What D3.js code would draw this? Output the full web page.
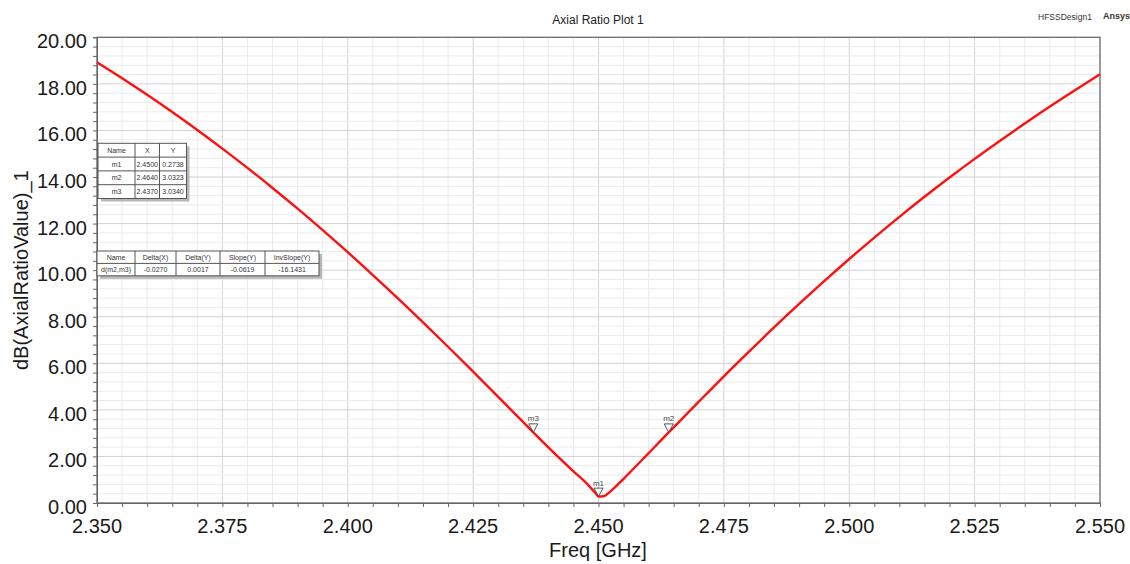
<!DOCTYPE html>
<html><head><meta charset="utf-8">
<script src="https://cdn.jsdelivr.net/npm/d3@7"></script>
<style>body{margin:0;background:#fff}svg{display:block}text{font-family:"Liberation Sans",Arial,sans-serif}</style>
</head><body><svg id="c" width="1130" height="564"></svg>
<script>
// ---- data ----
const freq = [2.350,2.355,2.360,2.365,2.370,2.375,2.380,2.385,2.390,2.395,2.400,2.405,2.410,2.415,2.420,2.425,2.430,2.435,2.437,2.440,2.445,2.448,2.4495,2.450,2.451,2.4525,2.455,2.460,2.464,2.465,2.470,2.475,2.480,2.485,2.490,2.495,2.500,2.505,2.510,2.515,2.520,2.525,2.530,2.535,2.540,2.545,2.550];
const axialRatio = [18.92,18.24,17.53,16.79,16.02,15.22,14.39,13.53,12.64,11.72,10.77,9.79,8.79,7.76,6.71,5.64,4.56,3.47,3.034,2.39,1.36,0.76,0.40,0.274,0.29,0.52,1.04,2.14,3.032,3.25,4.35,5.44,6.50,7.54,8.55,9.53,10.48,11.40,12.29,13.15,13.98,14.78,15.55,16.30,17.03,17.73,18.41];
const xTickLabels = ["2.350","2.375","2.400","2.425","2.450","2.475","2.500","2.525","2.550"];
const yTickLabels = ["0.00","2.00","4.00","6.00","8.00","10.00","12.00","14.00","16.00","18.00","20.00"];
const markerNames = ["m1","m2","m3"];
const markerX = [2.4500,2.4640,2.4370];
const markerY = [0.2738,3.0323,3.0340];
const markerXText = ["2.4500","2.4640","2.4370"];
const markerYText = ["0.2738","3.0323","3.0340"];
const deltaHeader = ["Name","Delta(X)","Delta(Y)","Slope(Y)","InvSlope(Y)"];
const deltaRow = ["d(m2,m3)","-0.0270","0.0017","-0.0619","-16.1431"];

// ---- layout ----
const svg = d3.select("#c");
const L = 97, R = 1100, T = 37.3, B = 503;
const x = d3.scaleLinear().domain([2.35,2.55]).range([L,R]);
const y = d3.scaleLinear().domain([0,20]).range([B,T]);

// grid
const g = svg.append("g");
const xMinor = d3.range(0,41).map(i=>2.35+i*0.005);
const yMinor = d3.range(0,51).map(i=>i*0.4);
g.selectAll(".vx").data(xMinor).enter().append("line")
  .attr("x1",d=>x(d)).attr("x2",d=>x(d)).attr("y1",T).attr("y2",B)
  .attr("stroke",(d,i)=>i%5===0?"#d2d2d2":"#ebebeb").attr("stroke-width",1);
g.selectAll(".hy").data(yMinor).enter().append("line")
  .attr("y1",d=>y(d)).attr("y2",d=>y(d)).attr("x1",L).attr("x2",R)
  .attr("stroke",(d,i)=>i%5===0?"#d2d2d2":"#ebebeb").attr("stroke-width",1);

// axes with minor ticks
const xAxis = d3.axisBottom(x).tickValues(xMinor).tickSize(4).tickFormat("");
svg.append("g").attr("transform",`translate(0,${B})`).call(xAxis)
  .call(s=>s.select(".domain").attr("stroke","#666"))
  .call(s=>s.selectAll(".tick line").attr("stroke","#666"));
const yAxis = d3.axisLeft(y).tickValues(yMinor).tickSize(4).tickFormat("");
svg.append("g").attr("transform",`translate(${L},0)`).call(yAxis)
  .call(s=>s.select(".domain").attr("stroke","#666"))
  .call(s=>s.selectAll(".tick line").attr("stroke","#666"));
// border
svg.append("rect").attr("x",L).attr("y",T).attr("width",R-L).attr("height",B-T)
  .attr("fill","none").attr("stroke","#666").attr("stroke-width",1.2);

// tick labels
svg.selectAll(".xl").data(xTickLabels).enter().append("text")
  .attr("x",d=>x(+d)).attr("y",B+29.5).attr("text-anchor","middle")
  .attr("font-size",20).attr("fill","#1a1a1a").text(d=>d);
svg.selectAll(".yl").data(yTickLabels).enter().append("text")
  .attr("x",87).attr("y",d=>y(+d)+11).attr("text-anchor","end")
  .attr("font-size",20).attr("fill","#1a1a1a").text(d=>d);

// titles
svg.append("text").attr("x",598).attr("y",24).attr("text-anchor","middle")
  .attr("font-size",12).attr("fill","#222").text("Axial Ratio Plot 1");
svg.append("text").attr("x",1038).attr("y",20).attr("font-size",8.5).attr("fill","#333").text("HFSSDesign1");
svg.append("text").attr("x",1103).attr("y",19).attr("font-size",9).attr("font-weight","bold").attr("fill","#333").text("Ansys");
svg.append("text").attr("x",598).attr("y",557).attr("text-anchor","middle")
  .attr("font-size",20).attr("fill","#1a1a1a").text("Freq [GHz]");
svg.append("text").attr("transform",`translate(28,${(T+B)/2}) rotate(-90)`).attr("text-anchor","middle")
  .attr("font-size",20).attr("fill","#1a1a1a").text("dB(AxialRatioValue)_1");

// curve
const data = freq.map((f,i)=>({f,v:axialRatio[i]}));
const line = d3.line().x(d=>x(d.f)).y(d=>y(d.v)).curve(d3.curveMonotoneX);
svg.append("path").datum(data).attr("d",line).attr("fill","none")
  .attr("stroke","#ff1010").attr("stroke-width",2.4);

// markers
const mk = svg.selectAll(".mk").data(markerNames).enter().append("g")
  .attr("transform",(d,i)=>`translate(${x(markerX[i])},${y(markerY[i])})`);
mk.append("path").attr("d","M0,0 L-4.5,-8.5 L4.5,-8.5 Z").attr("fill","#fff").attr("fill-opacity",0.6)
  .attr("stroke","#444").attr("stroke-width",0.9);
mk.append("text").attr("y",-11).attr("text-anchor","middle").attr("font-size",8).attr("fill","#444").text(d=>d);

// tables
function table(x0,y0,colW,rowH,rows){
  const tg = svg.append("g");
  const W = d3.sum(colW), H = rowH*rows.length;
  tg.append("rect").attr("x",x0+3).attr("y",y0+3).attr("width",W).attr("height",H).attr("fill","#9a9a9a").attr("opacity",0.7);
  tg.append("rect").attr("x",x0).attr("y",y0).attr("width",W).attr("height",H).attr("fill","#fff").attr("stroke","#555").attr("stroke-width",1);
  let cx = x0;
  colW.forEach((w,ci)=>{
    if(ci>0) tg.append("line").attr("x1",cx).attr("x2",cx).attr("y1",y0).attr("y2",y0+H).attr("stroke","#555");
    rows.forEach((r,ri)=>{
      tg.append("text").attr("x",cx+w/2).attr("y",y0+ri*rowH+rowH/2+2.5).attr("text-anchor","middle")
        .attr("font-size",7).attr("fill","#333").text(r[ci]);
    });
    cx += w;
  });
  rows.forEach((r,ri)=>{ if(ri>0) tg.append("line").attr("x1",x0).attr("x2",x0+W).attr("y1",y0+ri*rowH).attr("y2",y0+ri*rowH).attr("stroke","#555"); });
}
table(98,143.3,[37,24.5,27],13.8,[["Name","X","Y"]].concat(markerNames.map((n,i)=>[n,markerXText[i],markerYText[i]])));
table(97,251,[38,41,44,45,54],12.4,[deltaHeader,deltaRow]);
</script></body></html>
